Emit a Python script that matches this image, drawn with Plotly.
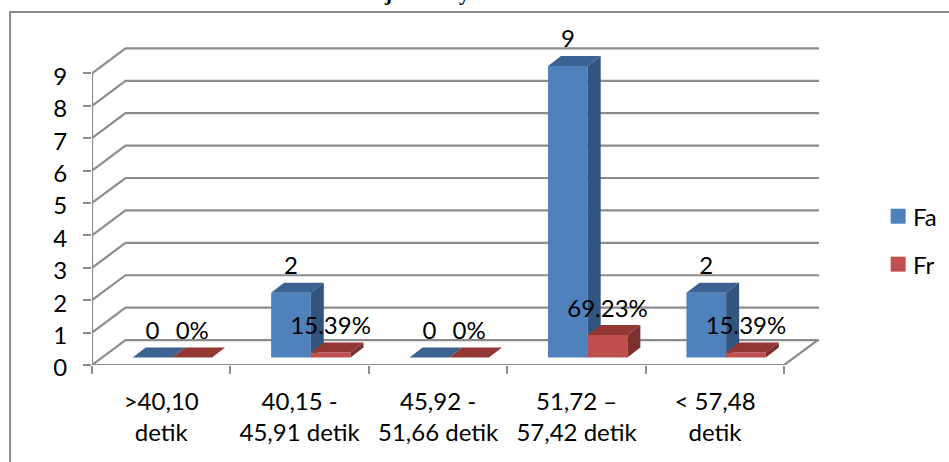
import plotly.graph_objects as go

# Chart content
categories = [">40,10<br>detik", "40,15 -<br>45,91 detik", "45,92 -<br>51,66 detik",
              "51,72 –<br>57,42 detik", "< 57,48<br>detik"]
fa_values = [0, 2, 0, 9, 2]
fr_values = [0, 0.1539, 0, 0.6923, 0.1539]
fa_labels = ["0", "2", "0", "9", "2"]
fr_labels = ["0%", "15.39%", "0%", "69.23%", "15.39%"]
y_ticks = list(range(10))

# Frame of the drawing area, in pixels
W, H = 949, 462
LEFT, RIGHT, BOTTOM, TOP = 92, 819.3, 365.5, 20
Y_MAX = (BOTTOM - TOP) / 32.45
X_MAX = (RIGHT - LEFT) / 138.5

# Oblique projection: how far the back wall sits from the front, in axis units
DEPTH_X = 33.5 / 138.5
DEPTH_Y = 25 / 32.45
# Bars stand part-way into the floor and are shallower than it
BAR_BASE = 7.5 / 32.45
BAR_DX = 13 / 138.5
BAR_DY = 10 / 32.45
BAR_W = 39.7 / 138.5
BAR_LEFT = (132.7 - 92) / 138.5
LABEL_GAP = 24.5 / 32.45

GRID = "#8c8c8c"
BLUE, BLUE_TOP, BLUE_SIDE = "#4f81bd", "#3c6291", "#32557f"
RED, RED_TOP, RED_SIDE = "#c0504d", "#913734", "#7d302e"
FONT = "Lato, Carlito, Calibri, sans-serif"
FS = 24

fig = go.Figure()

# Walls and floor lines
gx, gy = [], []
for v in y_ticks:
    gx += [0, DEPTH_X, X_MAX, None]
    gy += [v, v + DEPTH_Y, v + DEPTH_Y, None]
gx += [0, 0, None, 0, 5, 5 + DEPTH_X]
gy += [0, 9, None, 0, 0, DEPTH_Y]
fig.add_trace(go.Scatter(x=gx, y=gy, mode="lines", hoverinfo="skip", showlegend=False,
                         line=dict(color=GRID, width=2.2)))


def add_series(values, name, offset, front, top, side, xa, ya):
    """Front faces as bars, with the top and right faces as filled polygons."""
    xs = [i + 0.5 for i in range(len(values))]
    fig.add_trace(go.Bar(x=xs, y=values, base=BAR_BASE, width=BAR_W,
                         offset=offset - 0.5, marker=dict(color=front, line_width=0),
                         name=name, showlegend=False, xaxis=xa, yaxis=ya))
    for i, v in enumerate(values):
        x0 = i + offset
        x1 = x0 + BAR_W
        y0 = BAR_BASE
        y1 = BAR_BASE + v
        fig.add_trace(go.Scatter(
            x=[x0, x1, x1 + BAR_DX, x0 + BAR_DX, x0],
            y=[y1, y1, y1 + BAR_DY, y1 + BAR_DY, y1],
            mode="lines", fill="toself", fillcolor=top, line=dict(width=0),
            hoverinfo="skip", showlegend=False, xaxis=xa, yaxis=ya))
        if v > 0:
            fig.add_trace(go.Scatter(
                x=[x1, x1 + BAR_DX, x1 + BAR_DX, x1, x1],
                y=[y0, y0 + BAR_DY, y1 + BAR_DY, y1, y0],
                mode="lines", fill="toself", fillcolor=side, line=dict(width=0),
                hoverinfo="skip", showlegend=False, xaxis=xa, yaxis=ya))


add_series(fa_values, "Fa", BAR_LEFT, BLUE, BLUE_TOP, BLUE_SIDE, "x2", "y2")
add_series(fr_values, "Fr", BAR_LEFT + BAR_W, RED, RED_TOP, RED_SIDE, "x3", "y3")

# Value labels sit a fixed distance above each bar
for values, labels, offset in ((fa_values, fa_labels, BAR_LEFT),
                               (fr_values, fr_labels, BAR_LEFT + BAR_W)):
    fig.add_trace(go.Scatter(
        x=[i + offset + BAR_W / 2 for i in range(len(values))],
        y=[v + BAR_BASE + LABEL_GAP for v in values],
        text=labels, mode="text", textposition="middle center",
        textfont=dict(family=FONT, size=FS, color="#000000"),
        hoverinfo="skip", showlegend=False, xaxis="x3", yaxis="y3"))

hidden = dict(visible=False, fixedrange=True)
py = lambda v: 1 - (v - TOP) / (BOTTOM - TOP)
pxf = lambda v: (v - LEFT) / (RIGHT - LEFT)

fig.update_layout(
    width=W, height=H, paper_bgcolor="#ffffff", plot_bgcolor="rgba(0,0,0,0)",
    margin=dict(l=LEFT, r=W - RIGHT, t=TOP, b=H - BOTTOM, pad=0),
    autosize=False, barmode="overlay", showlegend=False,
    font=dict(family=FONT, size=FS, color="#000000"),
    xaxis=dict(range=[0, X_MAX], showgrid=False, zeroline=False, showline=False,
               tickvals=[i + 0.5 for i in range(len(categories))], ticktext=categories,
               ticks="", ticklabelstandoff=20, tickfont=dict(family=FONT, size=FS, color="#000000"),
               minor=dict(tickvals=list(range(len(categories) + 1)), ticks="outside",
                          ticklen=8, tickwidth=2, tickcolor=GRID)),
    yaxis=dict(range=[0, Y_MAX], showgrid=False, zeroline=False, showline=False,
               tickvals=y_ticks, ticks="outside", ticklen=8, tickwidth=2, tickcolor=GRID,
               ticklabelstandoff=11, ticklabelshift=3,
               tickfont=dict(family=FONT, size=FS, color="#000000")),
    xaxis2=dict(range=[0, X_MAX], overlaying="x", **hidden),
    yaxis2=dict(range=[0, Y_MAX], overlaying="y", **hidden),
    xaxis3=dict(range=[0, X_MAX], overlaying="x", **hidden),
    yaxis3=dict(range=[0, Y_MAX], overlaying="y", **hidden),
)

# Outer chart border runs off the page on the right and at the bottom
fig.add_shape(type="path", xref="paper", yref="paper", layer="below",
              path=f"M {pxf(10)} {py(H + 5)} L {pxf(10)} {py(12)} L {pxf(W + 5)} {py(12)}",
              line=dict(color=GRID, width=2))

# Key on the right
for name, colour, y0 in (("Fa", BLUE, 209), ("Fr", RED, 257)):
    fig.add_shape(type="rect", xref="paper", yref="paper",
                  x0=pxf(891), x1=pxf(906), y0=py(y0 + 15), y1=py(y0),
                  fillcolor=colour, line_width=0)
    fig.add_annotation(xref="paper", yref="paper", x=pxf(911), y=py(y0 + 7.5),
                       text=name, showarrow=False, xanchor="left", yanchor="middle",
                       font=dict(family=FONT, size=FS, color="#000000"))

# Heading letters that hang below the top edge of the page
for letter, x in (("j", 388), ("y", 465)):
    fig.add_annotation(xref="paper", yref="paper", x=pxf(x), y=py(7), text=f"<b>{letter}</b>",
                       showarrow=False, xanchor="center", yanchor="bottom",
                       font=dict(family="Liberation Serif", size=21, color="#000000"))

fig.write_html("out.html", config=dict(displayModeBar=False))
